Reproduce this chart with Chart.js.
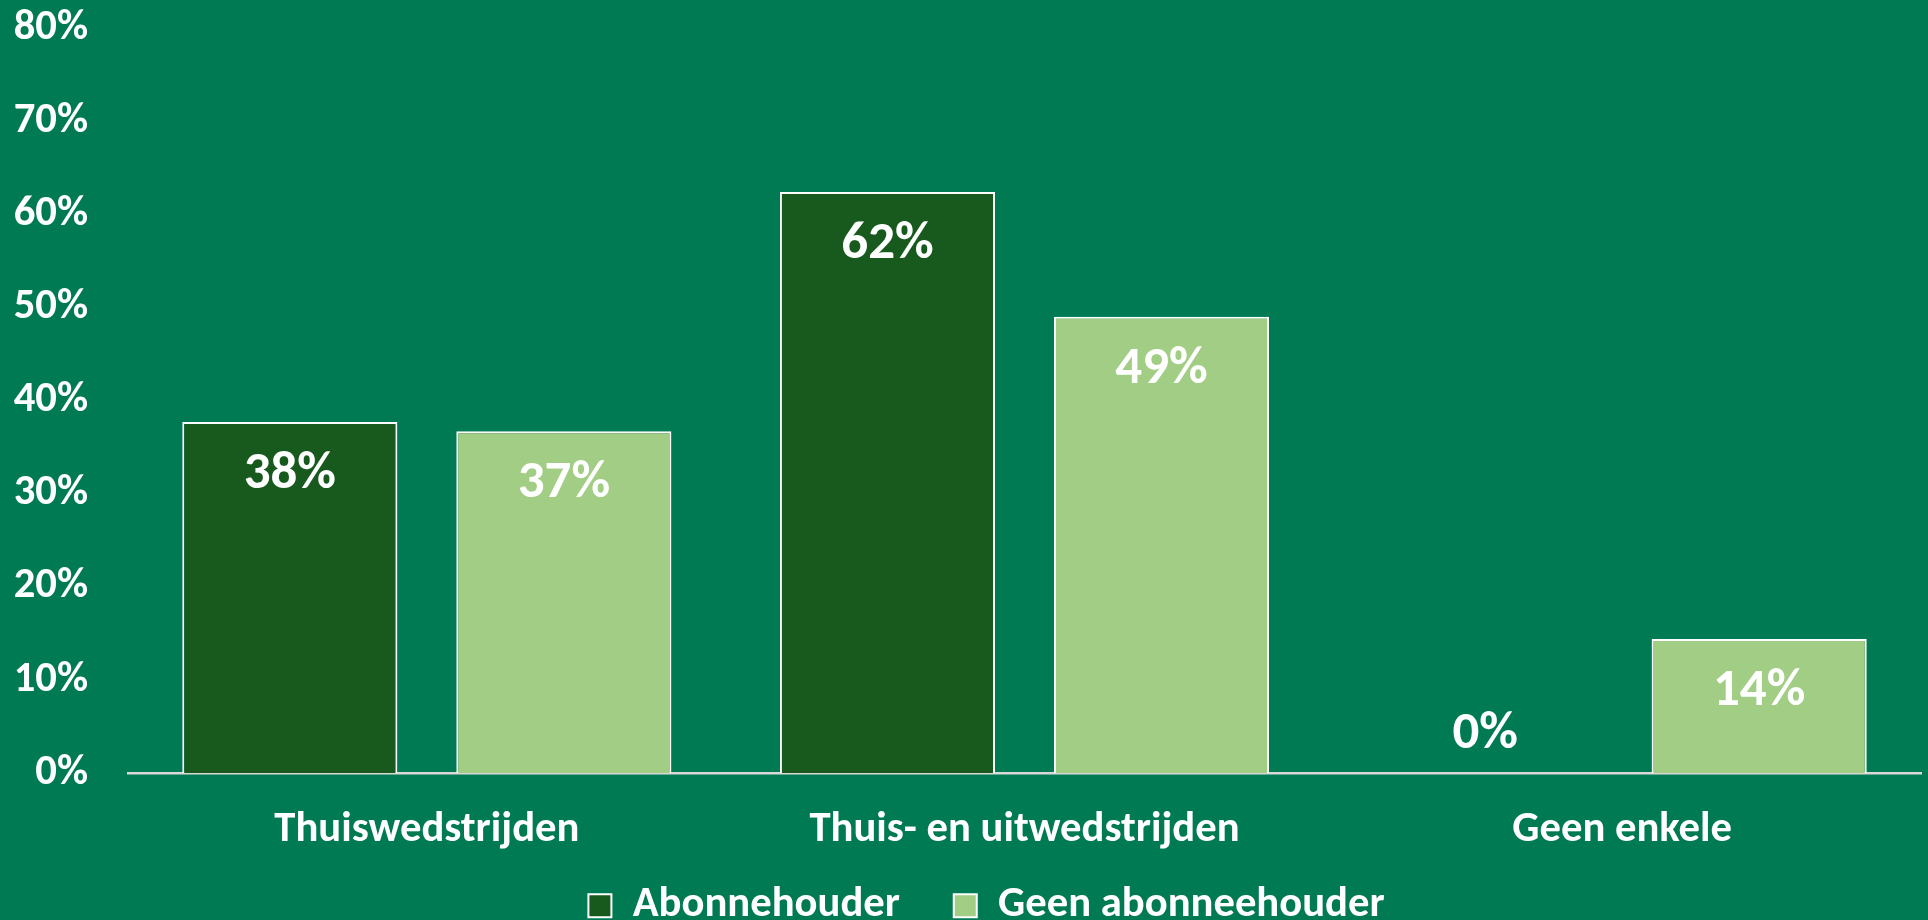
<!DOCTYPE html>
<html>
<head>
<meta charset="utf-8">
<title>Abonnehouders</title>
<script src="https://cdn.jsdelivr.net/npm/chart.js@4/dist/chart.umd.min.js"></script>
<style>
  html, body { margin: 0; padding: 0; background: #007a53; }
  #wrap { width: 1928px; height: 920px; position: relative; }
</style>
</head>
<body>
<div id="wrap"><canvas id="chart"></canvas></div>
<script>
// Wedstrijdbezoek: abonnehouders vs. geen abonnehouders

const categories = ['Thuiswedstrijden', 'Thuis- en uitwedstrijden', 'Geen enkele'];
const seriesNames = ['Abonnehouder', 'Geen abonneehouder'];
const abonnehouder = [37.7, 62.4, 0];
const geenAbonnehouder = [36.7, 49.0, 14.4];
const yTicks = [0, 10, 20, 30, 40, 50, 60, 70, 80];

const FONT = "Carlito, Lato, 'Open Sans', sans-serif";

// labels inside the top of each bar (above it when the bar is empty)
const barLabels = {
  id: 'barLabels',
  afterDatasetsDraw(chart) {
    const ctx = chart.ctx;
    ctx.save();
    ctx.fillStyle = '#ffffff';
    ctx.font = 'bold 53px ' + FONT;
    ctx.textAlign = 'center';
    ctx.textBaseline = 'middle';
    chart.data.datasets.forEach((ds, i) => {
      chart.getDatasetMeta(i).data.forEach((bar, j) => {
        const v = ds.data[j];
        const y = v > 0 ? bar.y + 53 : bar.y - 38;
        ctx.fillText(Math.round(v) + '%', bar.x, y);
      });
    });
    ctx.restore();
  }
};

// nudge the legend a bit to the right, like the original
const legendShift = {
  id: 'legendShift',
  afterLayout(chart) {
    chart.legend.left += 26;
    chart.legend.right += 26;
  }
};

new Chart(document.getElementById('chart'), {
  type: 'bar',
  data: {
    labels: categories,
    datasets: [{
      label: seriesNames[0],
      data: abonnehouder,
      backgroundColor: '#185a1e',
      borderColor: '#ffffff',
      borderWidth: 2,
      borderSkipped: 'bottom'
    }, {
      label: seriesNames[1],
      data: geenAbonnehouder,
      backgroundColor: '#a2cd84',
      borderColor: '#ffffff',
      borderWidth: 2,
      borderSkipped: 'bottom'
    }]
  },
  options: {
    responsive: true,
    maintainAspectRatio: false,
    animation: false,
    categoryPercentage: 0.917,
    barPercentage: 0.785,
    layout: { padding: { top: 28, right: 7, bottom: -17, left: 0 } },
    plugins: {
      legend: {
        position: 'bottom',
        labels: {
          color: '#ffffff',
          font: { family: FONT, size: 42.67, weight: 'bold' },
          boxWidth: 23,
          boxHeight: 23,
          padding: 24,
          generateLabels: chart => {
            const items = Chart.defaults.plugins.legend.labels.generateLabels(chart);
            items[0].text += '\u2002\u2009';
            return items;
          }
        }
      },
      tooltip: { enabled: false }
    },
    scales: {
      x: {
        grid: { display: false, drawTicks: false },
        border: { color: '#d9d9d9', width: 2.5 },
        ticks: {
          color: '#ffffff',
          padding: 32,
          font: { family: FONT, size: 42.67, weight: 'bold' }
        },
        afterFit: s => { s.height = 87.3; }
      },
      y: {
        min: 0,
        max: 80,
        grid: { display: false, drawTicks: false },
        border: { display: false },
        afterBuildTicks: s => { s.ticks = yTicks.map(v => ({ value: v })); },
        ticks: {
          color: '#ffffff',
          padding: 40,
          font: { family: FONT, size: 42.67, weight: 'bold' },
          callback: v => v + '%'
        },
        afterFit: s => { s.width = 128; s.paddingTop = 0; }
      }
    }
  },
  plugins: [barLabels, legendShift]
});
</script>
</body>
</html>
